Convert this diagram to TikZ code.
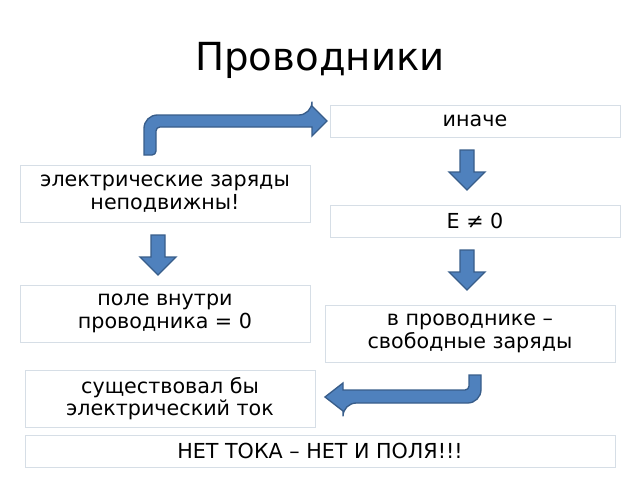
\documentclass[tikz,border=0pt]{standalone}
\usepackage{fontspec}
\setmainfont{DejaVu Sans}
\tikzset{every picture/.style={line width=0.75pt}}
\tikzset{
  box/.style={draw={rgb,255:red,214;green,222;blue,230},fill=white,inner sep=0pt,align=center,font=\fontsize{15.5}{17}\selectfont},
  blk/.style={fill={rgb,255:red,79;green,129;blue,189},draw={rgb,255:red,56;green,93;blue,138},line width=1pt}
}
\newcommand{\dnarr}[3]{\draw[blk] (#1-7,#2) -- (#1+7,#2) -- (#1+7,#3-18) -- (#1+18,#3-18) -- (#1,#3) -- (#1-18,#3-18) -- (#1-7,#3-18) -- cycle;}
\begin{document}
\begin{tikzpicture}[x=0.75pt,y=0.75pt,yscale=-1,xscale=1]
\useasboundingbox (0,0) rectangle (640,480);
% title
\node[font=\fontsize{29}{34}\selectfont] (title) at (320,60) {Проводники};
% boxes
\node[box,minimum width=290*0.75pt,minimum height=32*0.75pt] (inache) at (475,121) {иначе};
\node[box,minimum width=290*0.75pt,minimum height=57*0.75pt] (zar) at (165,193.5) {электрические заряды\\неподвижны!};
\node[box,minimum width=290*0.75pt,minimum height=32*0.75pt] (e) at (475,221) {E ≠ 0};
\node[box,minimum width=290*0.75pt,minimum height=57*0.75pt] (pole) at (165,313.5) {поле внутри\\проводника = 0};
\node[box,minimum width=290*0.75pt,minimum height=57*0.75pt] (svob) at (470,333.5) {в проводнике –\\свободные заряды};
\node[box,minimum width=290*0.75pt,minimum height=57*0.75pt] (tok) at (170,398.5) {существовал бы\\электрический ток};
\node[box,minimum width=590*0.75pt,minimum height=32*0.75pt] (net) at (320,451) {НЕТ ТОКА – НЕТ И ПОЛЯ!!!};
% block arrows
\draw[blk] (144,155) [rounded corners=10] -- (144,115) -- (312,115) [sharp corners] -- (312,106) -- (327,121) -- (312,136) -- (312,127) [rounded corners=3] -- (156,127) -- (156,155) [sharp corners] -- cycle;
\dnarr{467}{150}{190}
\dnarr{158}{235}{275}
\dnarr{467}{250}{290}
\draw[blk] (469,375) -- (481,375) [rounded corners=10] -- (481,403) -- (343,403) [sharp corners] -- (343,411) -- (325,397) -- (343,383) -- (343,390) [rounded corners=3] -- (469,390) [sharp corners] -- cycle;
\end{tikzpicture}
\end{document}
